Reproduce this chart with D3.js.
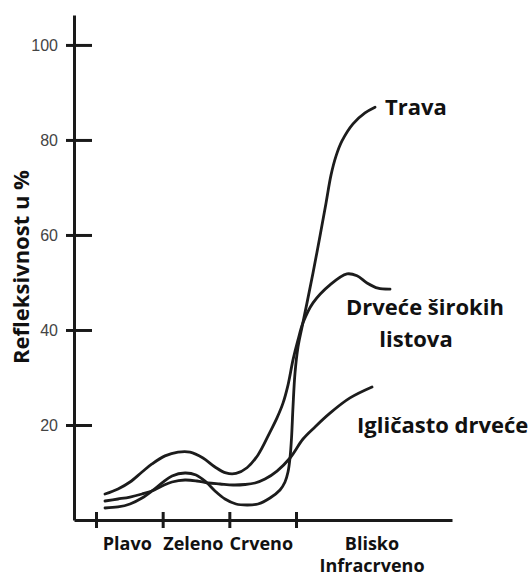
<!DOCTYPE html>
<html>
<head>
<meta charset="utf-8">
<script src="https://cdn.jsdelivr.net/npm/d3@7"></script>
<style>
  html, body { margin: 0; padding: 0; background: #fff; }
  svg { display: block; }
</style>
</head>
<body>
<svg id="chart" width="528" height="577"></svg>
<script>
// ---- data (wavelength in nm, reflectance in %) ----
const yTicks = [20, 40, 60, 80, 100];
const xTicks = [400, 500, 600, 700];
const categories = ["Plavo", "Zeleno", "Crveno", ["Blisko", "Infracrveno"]];
const categoryCenters = [447, 546, 648, 814];

const travaWl  = [413.5, 433, 451, 469, 484, 499, 514, 533.5, 550, 565, 578.5, 593.5, 610, 626.5, 643, 661, 676, 683.5, 688, 691, 693.3, 695.5, 698.5, 703, 709, 716.5, 725.5, 736, 745, 752.5, 760, 769, 785.5, 803.5, 818.5];
const travaVal = [2.53, 2.74, 3.37, 4.63, 6.11, 7.79, 9.26, 9.89, 9.47, 8.0, 6.11, 4.42, 3.37, 3.16, 3.37, 4.63, 6.32, 8.0, 10.1, 13.05, 17.3, 23.8, 30.9, 36.4, 40.6, 45.7, 52.0, 59.8, 66.7, 72.6, 76.6, 79.8, 83.4, 85.7, 86.9];

const listWl  = [413.5, 433, 451, 469, 484, 503.5, 523, 541, 560.5, 578.5, 595, 610, 626.5, 643, 661, 671.5, 680.5, 688, 695.5, 703, 710.5, 725.5, 751, 776.5, 791.5, 806.5, 823, 841];
const listVal = [5.47, 6.53, 8.0, 10.1, 11.8, 13.5, 14.3, 14.3, 13.05, 11.16, 9.9, 9.8, 11.0, 13.7, 18.5, 21.5, 24.6, 28.4, 33.7, 37.9, 41.5, 45.7, 49.5, 51.8, 51.4, 49.9, 48.8, 48.6];

const iglWl  = [413.5, 433, 451, 469, 484, 499, 514, 533.5, 551.5, 568, 586, 605.5, 623.5, 638.5, 653.5, 671.5, 691, 710.5, 728.5, 751, 781, 814];
const iglVal = [4.0, 4.42, 4.84, 5.47, 6.11, 7.16, 8.0, 8.42, 8.21, 7.79, 7.58, 7.37, 7.47, 7.79, 8.63, 10.3, 13.05, 17.05, 19.6, 22.5, 25.7, 28.0];

const seriesNames = ["Trava", ["Drveće širokih", "listova"], "Igličasto drveće"];

// ---- chart ----
const svg = d3.select("#chart");
const x = d3.scaleLinear().domain([367, 934]).range([74, 452]);
const y = d3.scaleLinear().domain([0, 106.3]).range([520, 15]);

const axisColor = "#1a1a1a";

// Y axis
const gy = svg.append("g").attr("transform", "translate(74,0)")
  .call(d3.axisLeft(y).tickValues(yTicks).tickSizeOuter(0).tickSize(0).tickPadding(16));
gy.select(".domain").attr("stroke", axisColor).attr("stroke-width", 3);
gy.selectAll(".tick line").attr("x1", -8).attr("x2", 18)
  .attr("stroke", axisColor).attr("stroke-width", 3);
gy.selectAll(".tick text")
  .attr("font-family", "'Liberation Sans', Arial, sans-serif")
  .attr("font-size", 16).attr("fill", "#444");

// X axis
const gx = svg.append("g").attr("transform", `translate(0,${y(0)})`)
  .call(d3.axisBottom(x).tickValues(xTicks).tickSizeOuter(0).tickSize(0).tickFormat(""));
gx.select(".domain").attr("stroke", axisColor).attr("stroke-width", 3);
gx.selectAll(".tick line").attr("y1", -8).attr("y2", 8)
  .attr("stroke", axisColor).attr("stroke-width", 3);

// Category labels
const catFont = "'Open Sans', 'Noto Sans', sans-serif";
categories.forEach((c, i) => {
  const lines = Array.isArray(c) ? c : [c];
  const t = svg.append("text")
    .attr("text-anchor", "middle")
    .attr("font-family", catFont).attr("font-weight", 700)
    .attr("font-size", 18).attr("fill", "#111");
  lines.forEach((ln, j) => {
    t.append("tspan").attr("x", x(categoryCenters[i]))
      .attr("y", 550 + j * 22).text(ln);
  });
});

// Y title
svg.append("text")
  .attr("transform", "translate(29,267) rotate(-90)")
  .attr("text-anchor", "middle")
  .attr("font-family", catFont).attr("font-weight", 700)
  .attr("font-size", 22).attr("fill", "#111")
  .text("Refleksivnost u %");

// Curves
const line = d3.line()
  .x(d => x(d[0])).y(d => y(d[1]))
  .curve(d3.curveCatmullRom.alpha(0.5));

const series = [
  d3.zip(travaWl, travaVal),
  d3.zip(listWl, listVal),
  d3.zip(iglWl, iglVal)
];

svg.append("g").selectAll("path").data(series).join("path")
  .attr("d", line)
  .attr("fill", "none")
  .attr("stroke", "#1c1c1c")
  .attr("stroke-width", 2.8)
  .attr("stroke-linecap", "round")
  .attr("stroke-linejoin", "round");

// Series labels
const labelPos = [
  { x: 385, y: 115, anchor: "start" },
  { x: 425, y: 315, anchor: "middle", dx2: -9 },
  { x: 357, y: 433, anchor: "start" }
];
seriesNames.forEach((n, i) => {
  const lines = Array.isArray(n) ? n : [n];
  const p = labelPos[i];
  const t = svg.append("text")
    .attr("text-anchor", p.anchor)
    .attr("font-family", catFont).attr("font-weight", 700)
    .attr("font-size", 22).attr("fill", "#111");
  lines.forEach((ln, j) => {
    t.append("tspan").attr("x", p.x + (j > 0 ? (p.dx2 || 0) : 0))
      .attr("y", p.y + j * 32).text(ln);
  });
});
</script>
</body>
</html>
